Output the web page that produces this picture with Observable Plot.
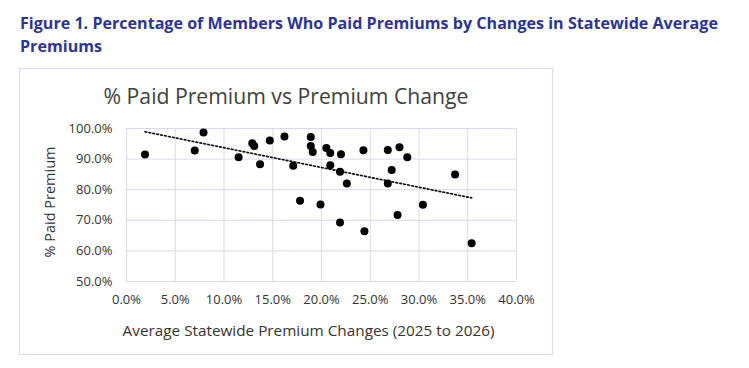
<!DOCTYPE html>
<html>
<head>
<meta charset="utf-8">
<script src="https://cdn.jsdelivr.net/npm/d3@7"></script>
<script src="https://cdn.jsdelivr.net/npm/@observablehq/plot@0.6"></script>
<style>
  html, body { margin: 0; padding: 0; background: #fff; }
  #page { position: relative; width: 749px; height: 368px; overflow: hidden; font-family: "Open Sans", sans-serif; }
  #fig-title { position: absolute; left: 20px; top: 12px; width: 725px; font-weight: 700; font-size: 16.1px; line-height: 23px; color: #2e3590; letter-spacing: 0; }
  #box { position: absolute; left: 19px; top: 68px; width: 532px; height: 285px; border: 1px solid #d9d9ef; }
  #box svg { position: absolute; left: 0; top: 0; }
  .t { position: absolute; color: #333; white-space: nowrap; }
  #chart-title { left: 0; width: 532px; top: 12px; text-align: center; font-size: 21.2px; color: #404040; }
  #x-title { left: 86px; width: 405px; top: 251px; text-align: center; font-size: 15.3px; }
  #y-title { left: 29px; top: 133px; font-size: 14.5px; transform: translate(-50%, -50%) rotate(-90deg); }
</style>
</head>
<body>
<div id="page">
  <div id="fig-title">Figure 1. Percentage of Members Who Paid Premiums by Changes in Statewide Average Premiums</div>
  <div id="box">
    <div id="chart-title" class="t">% Paid Premium vs Premium Change</div>
    <div id="x-title" class="t">Average Statewide Premium Changes (2025 to 2026)</div>
    <div id="y-title" class="t">% Paid Premium</div>
  </div>
</div>
<script>
// Average statewide premium change (%), one per state
const premiumChange = [1.9, 7.0, 7.9, 11.5, 12.9, 13.1, 13.7, 14.7, 16.2, 17.1, 17.8, 18.9, 18.9, 19.1, 19.9, 20.5, 20.9, 20.9, 22.0, 21.9, 22.6, 21.9, 24.3, 24.4, 26.8, 28.0, 28.8, 27.2, 26.8, 27.8, 30.4, 33.7, 35.4];
// % of members who paid premium
const paidPremium = [91.5, 92.8, 98.7, 90.6, 95.2, 94.3, 88.3, 96.1, 97.4, 87.8, 76.4, 97.2, 94.3, 92.3, 75.2, 93.6, 92.0, 88.0, 91.6, 85.9, 82.0, 69.3, 92.9, 66.4, 93.0, 93.9, 90.6, 86.4, 82.0, 71.7, 75.1, 85.0, 62.5];
const xTicks = [0, 5, 10, 15, 20, 25, 30, 35, 40];
const yTicks = [50, 60, 70, 80, 90, 100];

const data = premiumChange.map((x, i) => ({x, y: paidPremium[i]}));
const fmt = d => d.toFixed(1) + "%";
const gridColor = "#d9d9ef";

const chart = Plot.plot({
  width: 532,
  height: 285,
  marginLeft: 106,
  marginRight: 36,
  marginTop: 59,
  marginBottom: 73,
  style: {fontFamily: "Open Sans, sans-serif", fontSize: "13px", color: "#333", background: "transparent"},
  x: {domain: [0, 40]},
  y: {domain: [50, 100]},
  marks: [
    Plot.gridX(xTicks, {stroke: gridColor, strokeOpacity: 1, strokeWidth: 1}),
    Plot.gridY(yTicks, {stroke: gridColor, strokeOpacity: 1, strokeWidth: 1}),
    Plot.axisX(xTicks, {tickSize: 0, tickPadding: 13, tickFormat: fmt, label: null, fontSize: 13}),
    Plot.axisY(yTicks, {tickSize: 0, tickPadding: 14, tickFormat: fmt, label: null, fontSize: 13}),
    Plot.linearRegressionY(data, {x: "x", y: "y", ci: 0, stroke: "#111", strokeWidth: 1.7, strokeDasharray: "1.7,2.3"}),
    Plot.dot(data, {x: "x", y: "y", r: 4, fill: "#000", stroke: "none"})
  ]
});
document.getElementById("box").appendChild(chart);
</script>
</body>
</html>
